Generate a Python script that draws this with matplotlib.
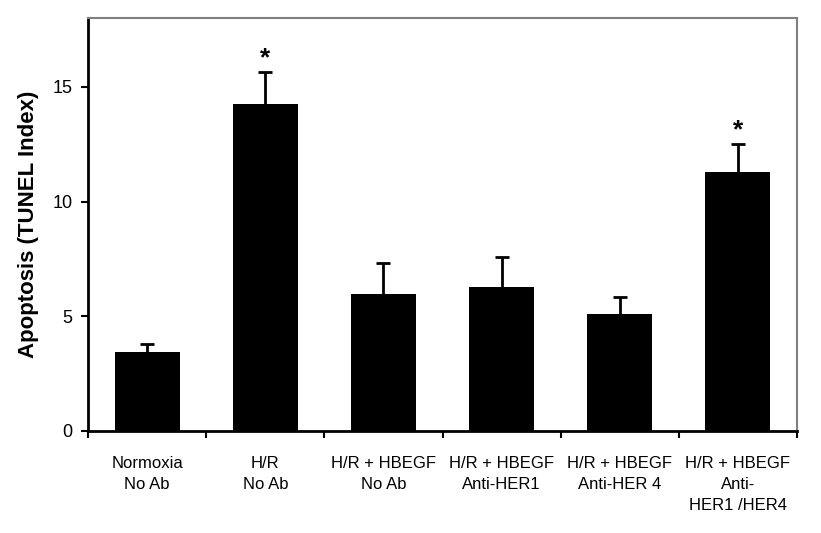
import numpy as np
import matplotlib.pyplot as plt

plt.rcParams['font.family'] = ['Liberation Sans', 'DejaVu Sans']

groups = ["Normoxia\nNo Ab", "H/R\nNo Ab", "H/R + HBEGF\nNo Ab",
          "H/R + HBEGF\nAnti-HER1", "H/R + HBEGF\nAnti-HER 4",
          "H/R + HBEGF\nAnti-\nHER1 /HER4"]
apoptosis = [3.43, 14.26, 5.97, 6.28, 5.08, 11.3]
sem = [0.35, 1.39, 1.37, 1.32, 0.78, 1.2]
significant = [False, True, False, False, False, True]


def draw_chart():
    fig = plt.figure(figsize=(8.21, 5.33), dpi=100)
    ax = fig.add_axes([0.1072, 0.1914, 0.8636, 0.7748])

    x = np.arange(len(groups))
    ax.bar(x, apoptosis, width=0.55, color='black', zorder=2)
    eb = ax.errorbar(x, apoptosis, yerr=[np.zeros(len(sem)), sem], fmt='none',
                     ecolor='black', elinewidth=2, capsize=5, capthick=2, zorder=3)
    # only the upper cap is wanted
    eb[1][0].set_visible(False)

    for i in range(len(groups)):
        if significant[i]:
            ax.annotate("*", (x[i], apoptosis[i] + sem[i]), xytext=(0, 1),
                        textcoords='offset points', ha='center', va='bottom',
                        fontsize=19, fontweight='bold')

    ax.set_xlim(-0.5, len(groups) - 0.5)
    ax.set_ylim(0, 18)
    ax.set_yticks([0, 5, 10, 15])
    ax.set_xticks(x)
    ax.set_xticklabels(groups, fontsize=12, linespacing=1.5)
    ax.set_xticks(np.arange(len(groups) + 1) - 0.5, minor=True)
    ax.tick_params(axis='x', which='major', length=0, pad=18)
    ax.tick_params(axis='x', which='minor', length=5, width=1.5, direction='out')
    ax.tick_params(axis='y', length=5, width=1.5, labelsize=13, pad=6)

    ax.set_ylabel("Apoptosis (TUNEL Index)", fontsize=16, fontweight='bold', labelpad=10)

    for side in ['left', 'bottom']:
        ax.spines[side].set_linewidth(2)
        ax.spines[side].set_color('black')
    for side in ['top', 'right']:
        ax.spines[side].set_linewidth(1.5)
        ax.spines[side].set_color('#808080')

    plt.savefig("out.png", dpi=100)


if __name__ == "__main__":
    draw_chart()
